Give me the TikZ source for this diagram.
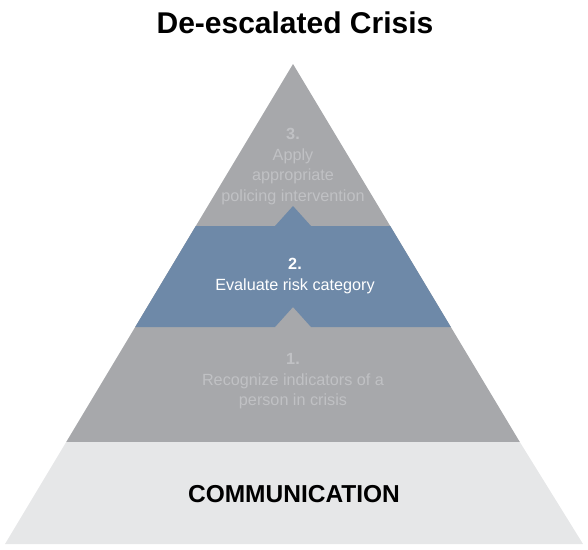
\documentclass[tikz,border=0pt]{standalone}
\usepackage{fontspec}
\setmainfont{Liberation Sans}
\definecolor{steel}{HTML}{A7A8AB}
\definecolor{slate}{HTML}{6E89A8}
\definecolor{mist}{HTML}{E6E7E8}
\definecolor{faded}{HTML}{C0C1C4}
\tikzset{etage/.style={align=center, font=\fontsize{16.2}{20.5}\selectfont},
         titre/.style={font=\fontsize{30}{34}\selectfont\bfseries}}

\begin{document}
\begin{tikzpicture}[x=1pt,y=-1pt]
\useasboundingbox (0,0) rectangle (588,549);
% Whole grey pyramid:
\fill [steel] (293,64) -- (450.8,327) -- (519.8,442) -- (66.2,442) -- cycle;
% Blue band with its two notches:
\fill [slate] (195.8,226) -- (275,226) -- (293,206) -- (311,226) -- (390.2,226)
              -- (450.8,327) -- (311,327) -- (293,307) -- (275,327) -- (135.2,327) -- cycle;
% Base:
\fill [mist] (66.2,442) -- (519.8,442) -- (583,544) -- (5,544) -- cycle;

\node[titre] (titre) at (295,23) {De-escalated Crisis};
\node[etage, text=faded] (trois) at (293,166.5) {\textbf{3.}\\Apply\\appropriate\\policing intervention};
\node[etage, text=white] (deux) at (295,276) {\textbf{2.}\\Evaluate risk category};
\node[etage, text=faded] (un) at (293,381.5) {\textbf{1.}\\Recognize indicators of a\\person in crisis};
\node[font=\fontsize{24.5}{28}\selectfont\bfseries] (base) at (294,494) {COMMUNICATION};
\end{tikzpicture}
\end{document}
